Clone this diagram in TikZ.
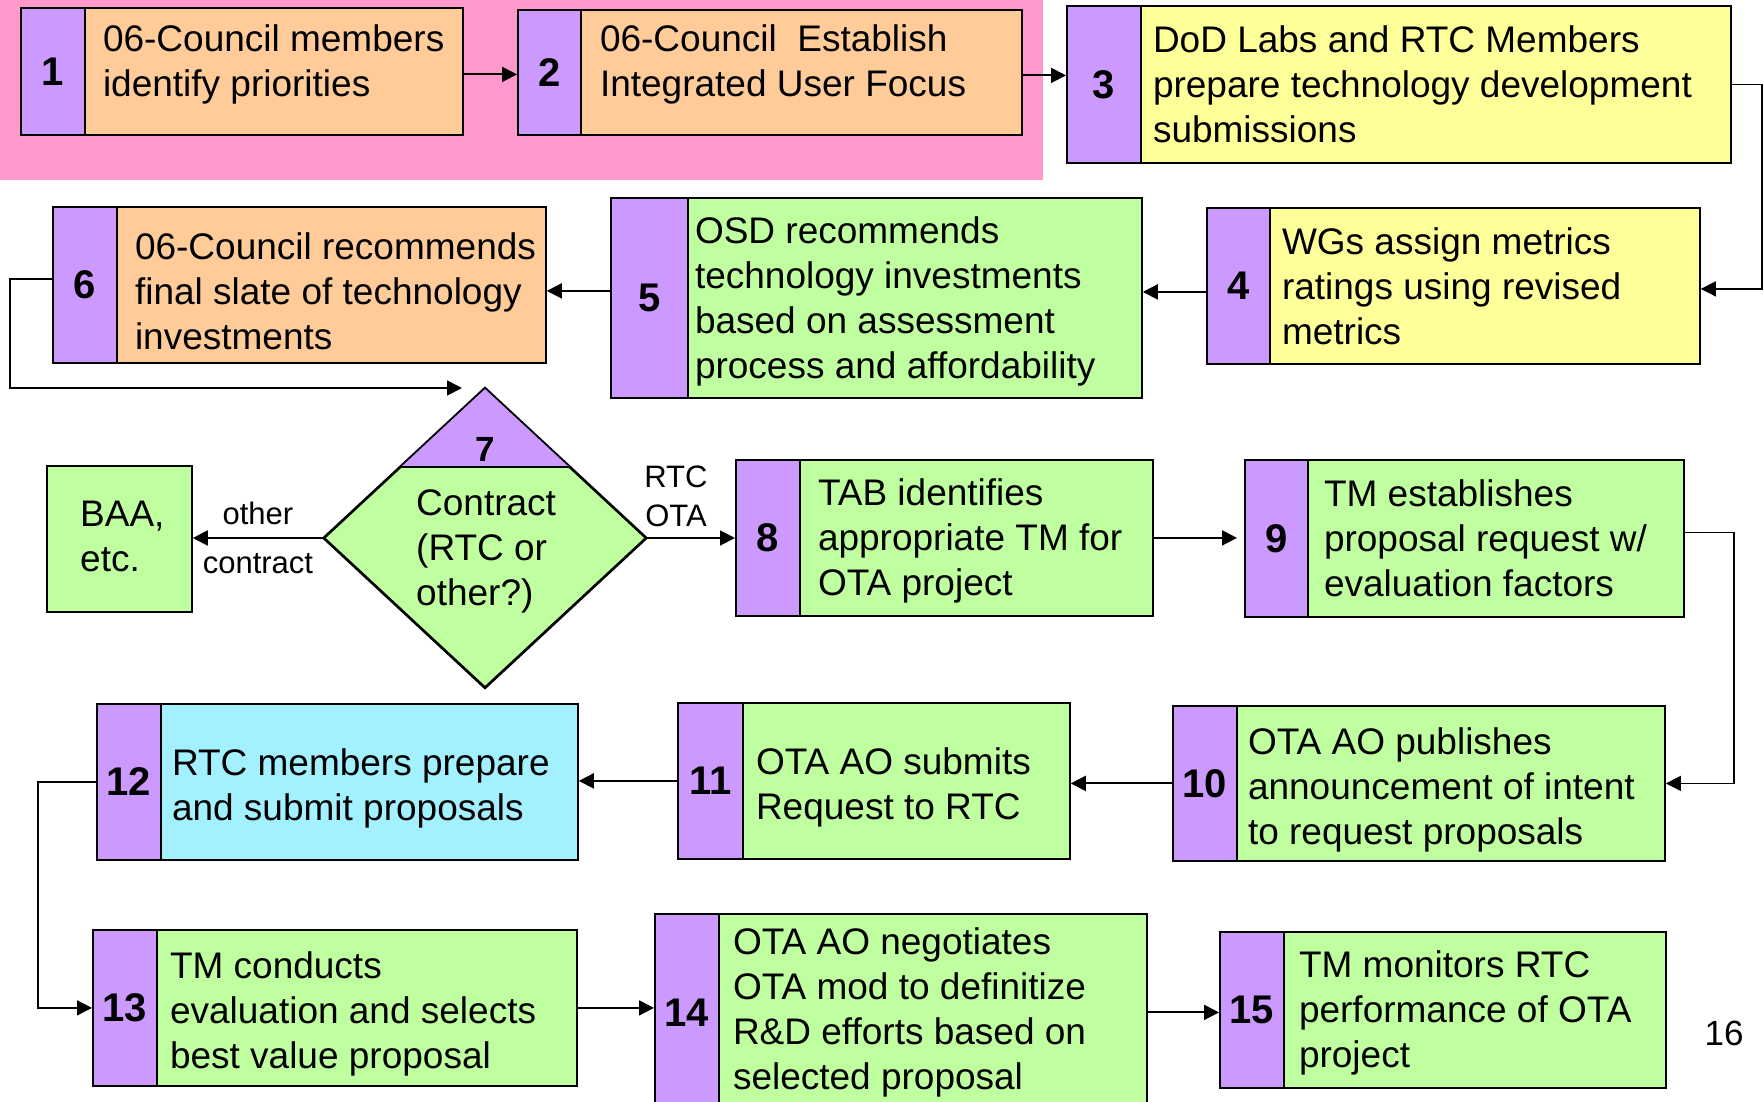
\documentclass[tikz,border=0pt]{standalone}
\usepackage{fontspec}
\setmainfont{Liberation Sans}
\usepackage{xcolor}
\usetikzlibrary{shapes.geometric}
\usetikzlibrary{calc}
\usetikzlibrary{arrows.meta}

\definecolor{pinkbg}{RGB}{255,153,204}
\definecolor{peach}{RGB}{255,204,153}
\definecolor{lilac}{RGB}{204,153,255}
\definecolor{lemon}{RGB}{255,255,153}
\definecolor{mint}{RGB}{192,255,160}
\definecolor{aqua}{RGB}{163,240,255}

\tikzset{
  numbar/.style={draw, line width=1.8pt, fill=lilac, anchor=north west, inner sep=0pt,
    font=\fontsize{40}{40}\selectfont\bfseries},
  stepbody/.style={draw, line width=1.8pt, anchor=north west, inner sep=0pt},
  steptext/.style={anchor=west, align=left, inner sep=0pt, font=\fontsize{37}{45}\selectfont},
  flow/.style={->, >={Triangle[length=15pt,width=15pt]}, line width=1.9pt},
  sidelabel/.style={font=\fontsize{31}{39}\selectfont, inner sep=3pt}
}

\begin{document}
\begin{tikzpicture}[x=1pt,y=-1pt]
  \useasboundingbox (0,0) rectangle (1764,1101);
  \fill[pinkbg] (0,0) rectangle (1043,180);

  % top row
  \node[stepbody, fill=peach, minimum width=378, minimum height=127] (step1) at (84,7) {};
  \node[numbar, minimum width=64, minimum height=127] (num1) at (20,7) {1};
  \node[steptext] (txt1) at ([xshift=17pt,yshift=6.5pt]num1.east) {06-Council members\\identify priorities};

  \node[stepbody, fill=peach, minimum width=441, minimum height=125] (step2) at (580,9) {};
  \node[numbar, minimum width=63, minimum height=125] (num2) at (517,9) {2};
  \node[steptext] (txt2) at ([xshift=18pt,yshift=7.5pt]num2.east) {06-Council~ Establish\\Integrated User Focus};

  \node[stepbody, fill=lemon, minimum width=590, minimum height=157] (step3) at (1140,5) {};
  \node[numbar, minimum width=74, minimum height=157] (num3) at (1066,5) {3};
  \node[steptext] (txt3) at ([xshift=11pt]num3.east) {DoD Labs and RTC Members\\prepare technology development\\submissions};

  % second row
  \node[stepbody, fill=lemon, minimum width=430, minimum height=156] (step4) at (1269,207) {};
  \node[numbar, minimum width=63, minimum height=156] (num4) at (1206,207) {4};
  \node[steptext] (txt4) at ([xshift=11pt]num4.east) {WGs assign metrics\\ratings using revised\\metrics};

  \node[stepbody, fill=mint, minimum width=454, minimum height=200] (step5) at (687,197) {};
  \node[numbar, minimum width=77, minimum height=200] (num5) at (610,197) {5};
  \node[steptext] (txt5) at ([xshift=6pt,yshift=-3.5pt]num5.east) {OSD recommends\\technology investments\\based on assessment\\process and affordability};

  \node[stepbody, fill=peach, minimum width=429, minimum height=156] (step6) at (116,206) {};
  \node[numbar, minimum width=64, minimum height=156] (num6) at (52,206) {6};
  \node[steptext] (txt6) at ([xshift=17pt,yshift=-6pt]num6.east) {06-Council recommends\\final slate of technology\\investments};

  % decision
  \node[draw, diamond, fill=mint, line width=1.8pt, minimum width=322, minimum height=299, inner sep=0pt] (dec7) at (485,538) {};
  \fill[lilac] (dec7.north) -- ($(dec7.north)!0.527!(dec7.west)$) coordinate (cutL)
    -- ($(dec7.north)!0.527!(dec7.east)$) coordinate (cutR) -- cycle;
  \draw[line width=1.8pt] (cutL) -- (cutR);
  \draw[line width=1.8pt] (dec7.north) -- (dec7.east) -- (dec7.south) -- (dec7.west) -- cycle;
  \node[font=\fontsize{35}{35}\selectfont\bfseries] (num7) at (485,449) {7};
  \node[steptext] (txt7) at (416,551) {Contract\\(RTC or\\other?)};
  \coordinate (in7) at (462,388);

  \node[stepbody, fill=mint, minimum width=145, minimum height=146] (baa) at (46,465) {};
  \node[steptext] (txtbaa) at (80,536) {BAA,\\etc.};

  \node[stepbody, fill=mint, minimum width=353, minimum height=156] (step8) at (799,459) {};
  \node[numbar, minimum width=64, minimum height=156] (num8) at (735,459) {8};
  \node[steptext] (txt8) at ([xshift=17pt,yshift=-3pt]num8.east) {TAB identifies\\appropriate TM for\\OTA project};

  \node[stepbody, fill=mint, minimum width=376, minimum height=157] (step9) at (1307,459) {};
  \node[numbar, minimum width=63, minimum height=157] (num9) at (1244,459) {9};
  \node[steptext] (txt9) at ([xshift=15pt]num9.east) {TM establishes\\proposal request w/\\evaluation factors};

  % third row
  \node[stepbody, fill=mint, minimum width=428, minimum height=155] (step10) at (1236,705) {};
  \node[numbar, minimum width=64, minimum height=155] (num10) at (1172,705) {10};
  \node[steptext] (txt10) at ([xshift=10pt,yshift=-6.5pt]num10.east) {OTA AO publishes\\announcement of intent\\to request proposals};

  \node[stepbody, fill=mint, minimum width=327, minimum height=156] (step11) at (742,702) {};
  \node[numbar, minimum width=65, minimum height=156] (num11) at (677,702) {11};
  \node[steptext] (txt11) at ([xshift=12pt,yshift=-6.5pt]num11.east) {OTA AO submits\\Request to RTC};

  \node[stepbody, fill=aqua, minimum width=417, minimum height=156] (step12) at (160,703) {};
  \node[numbar, minimum width=64, minimum height=156] (num12) at (96,703) {12};
  \node[steptext] (txt12) at ([xshift=10pt,yshift=-6.5pt]num12.east) {RTC members prepare\\and submit proposals};

  % bottom row
  \node[stepbody, fill=mint, minimum width=420, minimum height=156] (step13) at (156,929) {};
  \node[numbar, minimum width=64, minimum height=156] (num13) at (92,929) {13};
  \node[steptext] (txt13) at ([xshift=12pt,yshift=-6.5pt]num13.east) {TM conducts\\evaluation and selects\\best value proposal};

  \node[stepbody, fill=mint, minimum width=428, minimum height=197] (step14) at (718,913) {};
  \node[numbar, minimum width=64, minimum height=197] (num14) at (654,913) {14};
  \node[steptext] (txt14) at ([xshift=13pt]num14.east) {OTA AO negotiates\\OTA mod to definitize\\R\&D efforts based on\\selected proposal};

  \node[stepbody, fill=mint, minimum width=382, minimum height=156] (step15) at (1283,931) {};
  \node[numbar, minimum width=64, minimum height=156] (num15) at (1219,931) {15};
  \node[steptext] (txt15) at ([xshift=14pt,yshift=-3.5pt]num15.east) {TM monitors RTC\\performance of OTA\\project};

  \node[font=\fontsize{35}{35}\selectfont] (pagenum) at (1724,1033) {16};

  % connectors
  \draw[flow] ([yshift=-3pt]step1.east) -- ([yshift=-3pt]step1.east -| num2.west);
  \draw[flow] ([yshift=-3pt]step2.east) -- ([yshift=-3pt]step2.east -| num3.west);
  \draw[flow, line width=1.4pt] (step3.east) -- ++(30,0) |- ([yshift=-3pt]step4.east);
  \draw[flow] ([yshift=-6pt]num4.west) -- ([yshift=-6pt]num4.west -| step5.east);
  \draw[flow] ([yshift=7pt]num5.west) -- ([yshift=7pt]num5.west -| step6.east);
  \draw[flow, line width=1.6pt] ([yshift=6pt]num6.west) -- ++(-42,0) |- (in7);
  \draw[flow] (dec7.west) -- (dec7.west -| baa.east)
    node[sidelabel, midway, above=9pt] (lblother) {other}
    node[sidelabel, midway, below=11pt] (lblcontract) {contract};
  \draw[flow] (dec7.east) -- (dec7.east -| num8.west)
    node[sidelabel, pos=0.33, above=7pt, align=center] (lblrtc) {RTC\\OTA};
  \draw[flow] (step8.east) -- ([xshift=-7pt]step8.east -| num9.west);
  \draw[flow, line width=1.4pt] ([yshift=6pt]step9.east) -- ++(49,0) |- (step10.east);
  \draw[flow] (num10.west) -- (num10.west -| step11.east);
  \draw[flow] (num11.west) -- (num11.west -| step12.east);
  \draw[flow, line width=1.4pt] (num12.west) -- ++(-58,0) |- (num13.west);
  \draw[flow] (step13.east) -- (step13.east -| num14.west);
  \draw[flow] (step14.east) -- (step14.east -| num15.west);
\end{tikzpicture}
\end{document}
